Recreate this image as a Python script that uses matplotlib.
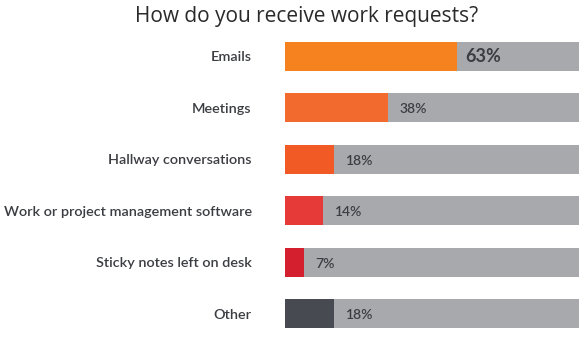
import matplotlib
matplotlib.use("Agg")
import matplotlib.pyplot as plt

categories = ["Emails", "Meetings", "Hallway conversations",
              "Work or project management software",
              "Sticky notes left on desk", "Other"]
values = [63, 38, 18, 14, 7, 18]
value_labels = ["63%", "38%", "18%", "14%", "7%", "18%"]
title = "How do you receive work requests?"

bar_colors = ["#F5821F", "#F26A2E", "#F15A25", "#E53A38", "#D31F2E", "#474A51"]
track_color = "#A7A9AC"
track_full = 108
text_color = "#3b3d42"

fig = plt.figure(figsize=(5.85, 3.38), dpi=100)
ax = fig.add_axes([285/585, 1 - 328/338, (579-285)/585, (328-42)/338])
ypos = list(range(len(categories)))
h = 0.56
ax.barh(ypos, [track_full]*len(categories), height=h, color=track_color, linewidth=0)
ax.barh(ypos, values, height=h, color=bar_colors, linewidth=0)
ax.set_xlim(0, track_full)
ax.set_ylim(5.28, -0.28)
ax.set_yticks(ypos)
ax.set_yticklabels(categories, fontsize=10.4, fontweight=600, color=text_color, family="Lato")
ax.tick_params(axis="y", length=0, pad=24)
ax.set_xticks([])
for s in ax.spines.values():
    s.set_visible(False)

for i, (v, lab) in enumerate(zip(values, value_labels)):
    big = (i == 0)
    ax.annotate(lab, (v, i), xytext=(8 if not big else 6, -1 if not big else 0),
                textcoords="offset points", va="center", ha="left",
                fontsize=13 if big else 10, fontweight="bold" if big else 600,
                color=text_color, family="Lato")

fig.text(307/585, 1 - 22/338, title, ha="center", va="baseline",
         fontsize=15, color="#2a2a2a", family="Open Sans")

fig.savefig("out.png", dpi=100, facecolor="white")
